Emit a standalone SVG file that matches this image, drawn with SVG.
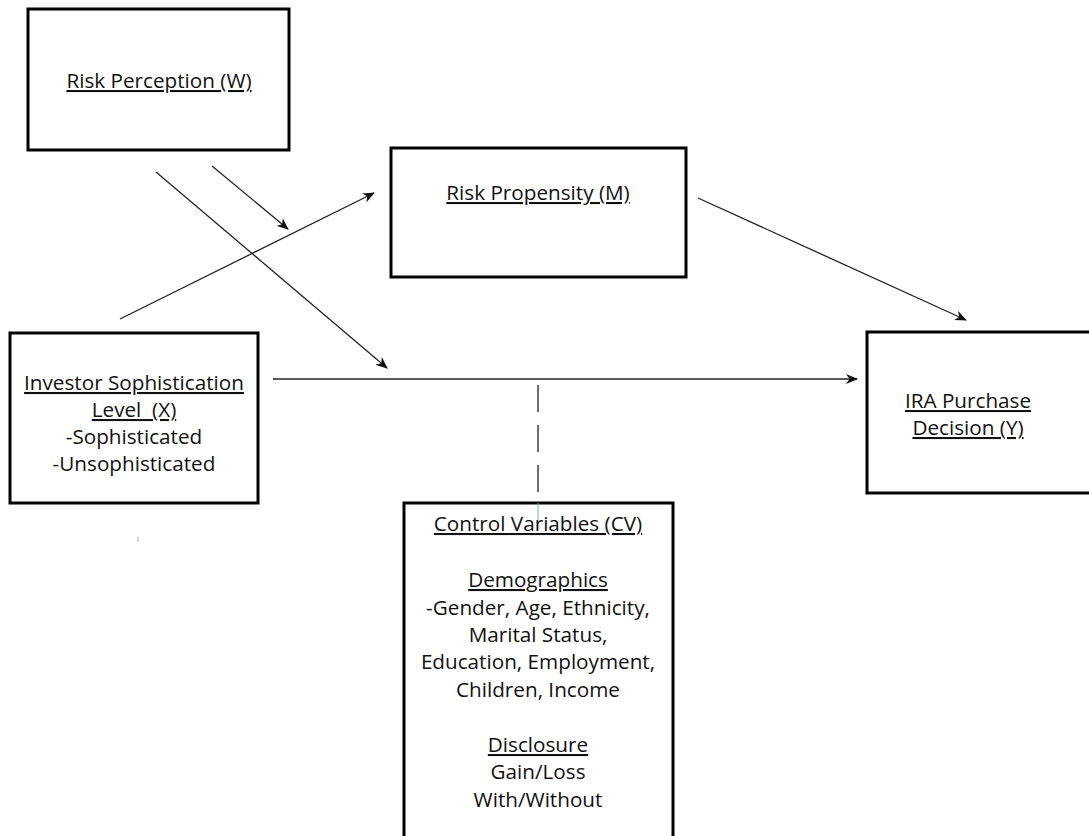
<svg xmlns="http://www.w3.org/2000/svg" width="1089" height="836" viewBox="0 0 1089 836">
<style>
.box{fill:#fff;stroke:#000;stroke-width:3}
.t{font-family:"Open Sans","Liberation Sans",sans-serif;font-size:20.7px;fill:#111;text-anchor:middle;white-space:pre}
.u{text-decoration:underline}
.c{stroke:#222;stroke-width:1.3;fill:none}
</style>
<defs>
<marker id="ah" viewBox="0 0 12 10" refX="11" refY="5" markerWidth="12" markerHeight="10" markerUnits="userSpaceOnUse" orient="auto">
<path d="M0,0 L12,5 L0,10 L3.5,5 z" fill="#111"/>
</marker>
</defs>
<rect width="1089" height="836" fill="#fff"/>
<g id="node-W">
<rect class="box" x="28" y="9" width="261" height="141"/>
<text class="t u" x="159" y="88">Risk Perception (W)</text>
</g>
<g id="node-M">
<rect class="box" x="391" y="148" width="295" height="129"/>
<text class="t u" x="538" y="200">Risk Propensity (M)</text>
</g>
<g id="node-X">
<rect class="box" x="10" y="333" width="248" height="170"/>
<text class="t u" x="134" y="390">Investor Sophistication</text>
<text class="t u" x="134" y="417">Level  (X)</text>
<text class="t" x="134" y="444">-Sophisticated</text>
<text class="t" x="134" y="471">-Unsophisticated</text>
</g>
<g id="node-Y">
<rect class="box" x="867" y="332" width="240" height="161"/>
<text class="t u" x="968" y="408">IRA Purchase</text>
<text class="t u" x="968" y="435">Decision (Y)</text>
</g>
<g id="node-CV">
<rect class="box" x="404" y="503" width="269" height="360"/>
<text class="t u" x="538" y="531">Control Variables (CV)</text>
<text class="t u" x="538" y="587">Demographics</text>
<text class="t" x="538" y="615">-Gender, Age, Ethnicity,</text>
<text class="t" x="538" y="642">Marital Status,</text>
<text class="t" x="538" y="669">Education, Employment,</text>
<text class="t" x="538" y="697">Children, Income</text>
<text class="t u" x="538" y="752">Disclosure</text>
<text class="t" x="538" y="779">Gain/Loss</text>
<text class="t" x="538" y="807">With/Without</text>
</g>
<g id="connectors">
<line class="c" x1="120" y1="319" x2="374" y2="193" marker-end="url(#ah)"/>
<line class="c" x1="212" y1="166" x2="288" y2="229" marker-end="url(#ah)"/>
<line class="c" x1="156" y1="172" x2="387" y2="368" marker-end="url(#ah)"/>
<line class="c" x1="273" y1="379" x2="857" y2="379" marker-end="url(#ah)"/>
<line class="c" x1="698" y1="198" x2="966" y2="320" marker-end="url(#ah)"/>
<line class="c" x1="538" y1="385" x2="538" y2="494" stroke-dasharray="27 13"/>
<line x1="538" y1="503" x2="538" y2="520" stroke="#6ab0d6" stroke-width="1"/>
</g>
<line x1="138" y1="537" x2="138" y2="542" stroke="#aaa" stroke-width="1"/>
</svg>
